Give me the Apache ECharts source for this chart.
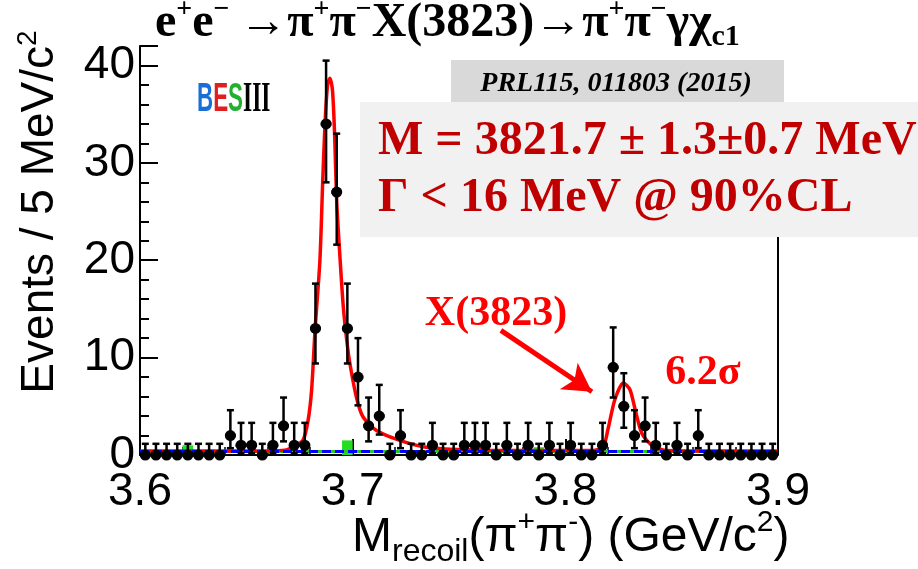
<!DOCTYPE html>
<html>
<head>
<meta charset="utf-8">
<script src="https://cdn.jsdelivr.net/npm/echarts@6.0.0/dist/echarts.min.js"></script>
<style>
  html, body { margin: 0; padding: 0; background: #fff; }
  #chart { width: 918px; height: 569px; }
</style>
</head>
<body>
<div id="chart"></div>
<script>
// 直方图: 3.6 ~ 3.9 GeV, 5 MeV 一个 bin
const massLow = 3.6;
const binWidth = 0.005;
const counts = [
  0, 0, 0, 0, 0, 0, 0, 0, 2, 1,
  1, 0, 1, 3, 1, 1, 13, 34, 27, 13,
  8, 3, 4, 0, 2, 0, 0, 1, 0, 0,
  1, 1, 1, 0, 1, 0, 1, 0, 1, 0,
  1, 0, 0, 1, 9, 5, 2, 3, 1, 0,
  1, 0, 2, 0, 0, 0, 0, 0, 0, 0
];
// 误差棒 (从图上读的 下限/上限)
const errBars = {
  0: [0, 1.15], 1: [0.17, 3.3], 2: [0.7, 4.6], 3: [1.4, 5.9], 4: [2.1, 7.2],
  5: [2.8, 8.4], 8: [5.1, 12.0], 9: [5.9, 13.1], 13: [9.4, 17.6],
  27: [21.6, 33.0], 34: [28.0, 40.5]
};
// 绿色本底直方图 (bin 序号 -> 高度)
const greenBins = [4, 19, 37];
const greenVals = [1.0, 1.5, 0.8];
// 拟合曲线 (红)
const fitX = [3.600, 3.650, 3.668, 3.6725, 3.6766, 3.6790, 3.6807, 3.6823, 3.6846, 3.6859,
  3.6870, 3.6882, 3.6893, 3.6905, 3.6915, 3.6925, 3.6940, 3.6956, 3.6972, 3.6987,
  3.7019, 3.7049, 3.7114, 3.7222, 3.7331, 3.7458, 3.7646, 3.800, 3.8120, 3.8177,
  3.8200, 3.8233, 3.8273, 3.8304, 3.8329, 3.8360, 3.8407, 3.8473, 3.870, 3.900];
const fitY = [0.40, 0.40, 0.50, 0.90, 1.5, 3.5, 6.7, 12.8, 20.0, 28.0,
  34.0, 38.0, 38.7, 37.5, 33.0, 26.0, 20.4, 15.2, 11.8, 9.4,
  5.8, 3.9, 2.5, 1.5, 0.85, 0.6, 0.5, 0.45, 0.45, 0.8,
  2.6, 5.7, 7.4, 6.7, 4.6, 2.2, 1.0, 0.45, 0.40, 0.40];
// 本底 (蓝色虚线)
const bkgX = [3.6, 3.9];
const bkgY = [0.35, 0.35];
// 箭头
const arrowFrom = [3.7697, 12.8];
const arrowTo = [3.8125, 6.5];
const xTicks = [3.6, 3.7, 3.8, 3.9];

const points = counts.map((n, i) => [massLow + (i + 0.5) * binWidth, n, errBars[n][0], errBars[n][1]]);
const green = greenBins.map((b, i) => [massLow + (b + 0.5) * binWidth, greenVals[i]]);
const fitData = fitX.map((x, i) => [x, fitY[i]]);
const bkgData = bkgX.map((x, i) => [x, bkgY[i]]);

const chart = echarts.init(document.getElementById('chart'));

const serif = 'Liberation Serif';
const sans = 'Liberation Sans';

chart.setOption({
  animation: false,
  backgroundColor: '#fff',
  grid: { left: 140, right: 140, top: 46, bottom: 114 },
  xAxis: {
    type: 'value', min: 3.6, max: 3.9, interval: 0.1,
    axisLine: { lineStyle: { color: '#000', width: 2 } },
    axisTick: { inside: true, length: 16, lineStyle: { color: '#000', width: 2 } },
    minorTick: { show: true, splitNumber: 5, length: 8, lineStyle: { color: '#000', width: 1.5 } },
    splitLine: { show: false },
    axisLabel: {
      fontSize: 46, color: '#000', fontFamily: sans, margin: 14,
      formatter: v => xTicks.some(t => Math.abs(t - v) < 1e-6) ? v.toFixed(1) : ''
    }
  },
  yAxis: {
    type: 'value', min: 0, max: 42, interval: 10,
    axisLine: { show: true, lineStyle: { color: '#000', width: 2 } },
    axisTick: { inside: true, length: 18, lineStyle: { color: '#000', width: 2 } },
    minorTick: { show: true, splitNumber: 5, length: 9, lineStyle: { color: '#000', width: 2 } },
    splitLine: { show: false },
    axisLabel: {
      fontSize: 46, color: '#000', fontFamily: sans, margin: 5, showMaxLabel: false,
      formatter: v => (v % 10 === 0 ? String(v) : '')
    }
  },
  series: [
    {
      // 绿色直方图
      type: 'custom', clip: false, z: 2,
      data: green,
      renderItem: (params, api) => {
        const p0 = api.coord([api.value(0) - binWidth / 2, api.value(1)]);
        const p1 = api.coord([api.value(0) + binWidth / 2, 0]);
        return { type: 'rect', shape: { x: p0[0], y: p0[1], width: p1[0] - p0[0], height: p1[1] - p0[1] },
          style: { fill: '#22dd22' } };
      }
    },
    {
      type: 'line', data: bkgData, symbol: 'none', z: 3,
      lineStyle: { color: '#22cc22', width: 3 }
    },
    {
      type: 'line', data: fitData, symbol: 'none', smooth: 0.25, z: 4,
      lineStyle: { color: '#ff0000', width: 3.5 }
    },
    {
      type: 'line', data: bkgData, symbol: 'none', z: 5,
      lineStyle: { color: '#0000ff', width: 3, type: [9, 4] },
      markLine: {
        silent: true, symbol: ['none', 'arrow'], symbolSize: [24, 28],
        label: { show: false },
        lineStyle: { color: '#ff0000', width: 5, type: 'solid' },
        data: [[{ coord: arrowFrom }, { coord: arrowTo }]]
      }
    },
    {
      // 数据点 + 误差棒
      type: 'custom', clip: false, z: 10,
      data: points,
      renderItem: (params, api) => {
        const x = api.value(0);
        const c = api.coord([x, api.value(1)]);
        const lo = api.coord([x, api.value(2)]);
        const hi = api.coord([x, api.value(3)]);
        const half = api.size([binWidth, 0])[0] / 2;
        const st = { stroke: '#000', lineWidth: 2.5 };
        return {
          type: 'group',
          children: [
            { type: 'line', shape: { x1: c[0], y1: hi[1], x2: c[0], y2: lo[1] }, style: st },
            { type: 'line', shape: { x1: c[0] - 3.5, y1: hi[1], x2: c[0] + 3.5, y2: hi[1] }, style: st },
            { type: 'line', shape: { x1: c[0] - 3.5, y1: lo[1], x2: c[0] + 3.5, y2: lo[1] }, style: st },
            { type: 'line', shape: { x1: c[0] - half, y1: c[1], x2: c[0] + half, y2: c[1] }, style: { stroke: '#000', lineWidth: 3.5 } },
            { type: 'circle', shape: { cx: c[0], cy: c[1], r: 5.5 }, style: { fill: '#000' } }
          ]
        };
      }
    }
  ],
  graphic: [
    // 右边框 (上半部被文字框挡住)
    { type: 'line', shape: { x1: 778, y1: 60, x2: 778, y2: 455 }, style: { stroke: '#000', lineWidth: 2 }, z: 1 },
    // 标题
    {
      type: 'text', left: 155, top: -4, z: 100,
      style: {
        text: '{a|e}{s|+}{a|e}{s|\u2212}{a|\u2009\u2192\u03c0}{s|+}{a|\u03c0}{s|\u2212}{a|X(3823)\u2192\u03c0}{s|+}{a|\u03c0}{s|\u2212}{a|\u03b3\u03c7}{b|c1}',
        rich: {
          a: { fontFamily: serif, fontWeight: 'bold', fontSize: 48, fill: '#000', lineHeight: 56 },
          s: { fontFamily: serif, fontWeight: 'bold', fontSize: 28, fill: '#000', verticalAlign: 'top', lineHeight: 36 },
          b: { fontFamily: serif, fontWeight: 'bold', fontSize: 30, fill: '#000', verticalAlign: 'bottom', lineHeight: 32 }
        }
      }
    },
    // y 轴标题
    {
      type: 'text', x: 40, y: 212, rotation: Math.PI / 2, z: 100,
      style: {
        text: '{a|Events / 5 MeV/c}{s|2}',
        align: 'center', verticalAlign: 'middle',
        rich: {
          a: { fontFamily: sans, fontSize: 46, fill: '#000', lineHeight: 52 },
          s: { fontFamily: sans, fontSize: 28, fill: '#000', verticalAlign: 'top', lineHeight: 30 }
        }
      }
    },
    // x 轴标题
    {
      type: 'text', left: 352, top: 508, z: 100,
      style: {
        text: '{a|M}{b|recoil}{a|(\u03c0}{s|+}{a|\u03c0}{s|-}{a|) (GeV/c}{s|2}{a|)}',
        rich: {
          a: { fontFamily: sans, fontSize: 48, fill: '#000', lineHeight: 60 },
          s: { fontFamily: sans, fontSize: 30, fill: '#000', verticalAlign: 'top', lineHeight: 34 },
          b: { fontFamily: sans, fontSize: 32, fill: '#000', verticalAlign: 'bottom', lineHeight: 32 }
        }
      }
    },
    // BESIII 标志
    {
      type: 'text', x: 197, y: 100, scaleX: 0.56, z: 100,
      style: {
        text: '{b|B}{e|E}{s|S}{r|III}',
        verticalAlign: 'middle',
        rich: {
          b: { fontFamily: sans, fontWeight: 'bold', fontSize: 40, fill: '#1a6fd6' },
          e: { fontFamily: sans, fontWeight: 'bold', fontSize: 40, fill: '#e02020' },
          s: { fontFamily: sans, fontWeight: 'bold', fontSize: 40, fill: '#22b030' },
          r: { fontFamily: serif, fontWeight: 'bold', fontSize: 42, fill: '#000' }
        }
      }
    },
    // 文献框
    { type: 'rect', shape: { x: 451, y: 60, width: 333, height: 42 }, style: { fill: '#d9d9d9' }, z: 90 },
    {
      type: 'text', x: 616, y: 84, z: 100,
      style: { text: 'PRL115, 011803 (2015)', align: 'center', verticalAlign: 'middle',
        fontFamily: serif, fontStyle: 'italic', fontWeight: 'bold', fontSize: 28, fill: '#000' }
    },
    // 结果框
    { type: 'rect', shape: { x: 360, y: 102, width: 560, height: 135 }, style: { fill: '#f1f1f1' }, z: 90 },
    {
      type: 'text', x: 378, y: 142, z: 100,
      style: { text: 'M = 3821.7 \u00b1 1.3\u00b10.7 MeV', verticalAlign: 'middle',
        fontFamily: serif, fontWeight: 'bold', fontSize: 48, fill: '#c00000' }
    },
    {
      type: 'text', x: 378, y: 199, z: 100,
      style: { text: '\u0393 < 16 MeV @ 90%CL', verticalAlign: 'middle',
        fontFamily: serif, fontWeight: 'bold', fontSize: 48, fill: '#c00000' }
    },
    // 标注
    {
      type: 'text', x: 496, y: 314, z: 100,
      style: { text: 'X(3823)', align: 'center', verticalAlign: 'middle',
        fontFamily: serif, fontWeight: 'bold', fontSize: 42, fill: '#ff0000' }
    },
    {
      type: 'text', x: 703, y: 373, z: 100,
      style: { text: '6.2\u03c3', align: 'center', verticalAlign: 'middle',
        fontFamily: serif, fontWeight: 'bold', fontSize: 42, fill: '#ff0000' }
    }
  ]
});
</script>
</body>
</html>
